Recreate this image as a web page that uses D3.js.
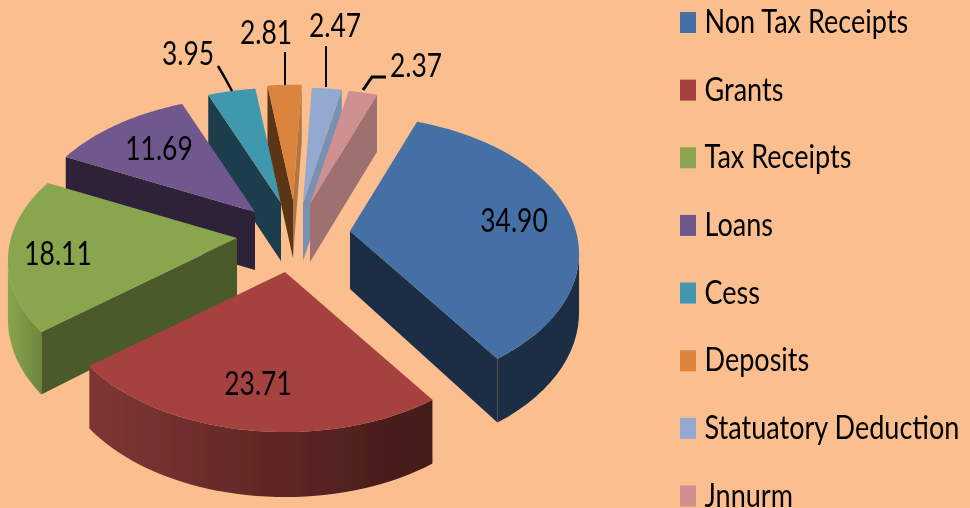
<!DOCTYPE html>
<html>
<head>
<meta charset="utf-8">
<script src="https://cdnjs.cloudflare.com/ajax/libs/d3/7.8.5/d3.min.js"></script>
<style>
html,body{margin:0;padding:0;background:#FBBF8F;overflow:hidden}
svg{display:block}
text{font-family:"Lato","Liberation Sans",sans-serif;fill:#000}
</style>
</head>
<body>
<svg id="c" width="970" height="508"></svg>
<script>
// data
const categories = ["Non Tax Receipts","Grants","Tax Receipts","Loans","Cess","Deposits","Statuatory Deduction","Jnnurm"];
const values = [34.90,23.71,18.11,11.69,3.95,2.81,2.47,2.37];
const valueLabels = ["34.90","23.71","18.11","11.69","3.95","2.81","2.47","2.37"];

// styles
const topColors = ["#4470A5","#A54241","#89A54E","#70588F","#4198AF","#DB843D","#93A9CF","#CF9092"];
const wallLeft  = ["#1A2E45","#803636","#8AA54F","#2D2138","#1B3D4B","#5A3513","#7A90B0","#9E7070"];
const wallRight = ["#1A2E45","#431A18","#6C873C","#2D2138","#1B3D4B","#5A3513","#7A90B0","#9E7070"];
const cutStart  = ["#1A2E45","#431A18","#4B5A2B","#2D2138","#1B3D4B","#5A3513","#7A90B0","#9E7070"];
const cutEnd    = ["#1A2E45","#803636","#4B5A2B","#2D2138","#1B3D4B","#B07840","#7A90B0","#9E7070"];

// layout: exploded apex of each slice, label anchors, leader lines
const apexX = [350,285,237,255,281,293,303,310];
const apexY = [231,272,238,212,203,200,203,204];
const labelX = [514,258,58,159,188,266,335,416];
const labelY = [232,395,265,160,65,44,37,77];
const leaders = [
  {i:4,w:2.5,pts:[[218,66],[225,78],[232,91]]},
  {i:5,w:2,pts:[[285,52],[285,85]]},
  {i:6,w:2,pts:[[326,46],[326,87]]},
  {i:7,w:3,pts:[[363,90],[372,77],[386,77]]}
];
const drawOrder = [4,5,6,7,3,2,0,1];
const rx = 226, ry = 134, persp = 0.163;
const fontSize = 33, squeeze = 0.8, legendSqueeze = 0.82;
const depth = d3.scaleLinear().domain([-1,0,1]).range([57,58,65]);

const svg = d3.select("#c");
const defs = svg.append("defs");
defs.append("filter").attr("id","soft").attr("x","-5%").attr("y","-5%").attr("width","110%").attr("height","110%")
  .append("feGaussianBlur").attr("stdDeviation",0.55);

svg.append("rect").attr("width",970).attr("height",508).attr("fill","#FBBF8F");

const rot = 20*Math.PI/180;
const arcs = d3.pie().sort(null).startAngle(rot).endAngle(rot+2*Math.PI)(values);

function project(i,a,drop){
  const X=Math.sin(a), Z=-Math.cos(a), s=1/(1-persp*Z);
  return [apexX[i]+rx*X*s, apexY[i]+ry*Z*s+(drop?depth(Z):0)];
}
const line = d3.line();
const samples = (a0,a1)=>d3.range(0,41).map(k=>a0+(a1-a0)*k/40);

const chart = svg.append("g").attr("filter","url(#soft)");

drawOrder.forEach(i=>{
  const d=arcs[i], g=chart.append("g");
  const as=samples(d.startAngle,d.endAngle);
  const P=[apexX[i],apexY[i]], Pd=[apexX[i],apexY[i]+depth(0)];
  const mid=project(i,(d.startAngle+d.endAngle)/2);

  // outer wall: only the arc part moving leftwards on screen faces the viewer
  const front=as.filter((a,k)=>{
    const x=project(i,a)[0];
    const movesLeft=k>0 && x<project(i,as[k-1])[0];
    const nextLeft=k<as.length-1 && project(i,as[k+1])[0]<x;
    return movesLeft||nextLeft;
  });
  if(front.length>1){
    const id="w"+i, xs=front.map(a=>project(i,a)[0]);
    const gr=defs.append("linearGradient").attr("id",id).attr("gradientUnits","userSpaceOnUse")
      .attr("x1",d3.min(xs)).attr("x2",d3.max(xs)).attr("y1",0).attr("y2",0);
    gr.append("stop").attr("offset",0).attr("stop-color",wallLeft[i]);
    gr.append("stop").attr("offset",1).attr("stop-color",wallRight[i]);
    const poly=front.map(a=>project(i,a)).concat(front.slice().reverse().map(a=>project(i,a,true)));
    g.append("path").attr("d",line(poly)+"Z").attr("fill",`url(#${id})`);
  }
  // radial cut walls, drawn if dropping by the depth moves away from the top face
  [[d.startAngle,cutStart[i]],[d.endAngle,cutEnd[i]]].forEach(([a,col])=>{
    const E=project(i,a), ex=E[0]-P[0], ey=E[1]-P[1];
    const cm=ex*(mid[1]-P[1])-ey*(mid[0]-P[0]), cd=ex*1;
    if(cm*cd<0){
      g.append("path").attr("d",line([P,E,project(i,a,true),Pd])+"Z").attr("fill",col);
    }
  });
  // top face
  g.append("path").attr("d",line([P].concat(as.map(a=>project(i,a))))+"Z").attr("fill",topColors[i]);
});

// leader lines
const ll = svg.append("g").attr("filter","url(#soft)");
leaders.forEach(l=>ll.append("path").attr("d",line(l.pts)).attr("fill","none").attr("stroke","#000").attr("stroke-width",l.w));

// value labels
const lab = svg.append("g").attr("filter","url(#soft)");
lab.selectAll("text").data(valueLabels).join("text")
  .attr("transform",(d,i)=>`translate(${labelX[i]},${labelY[i]}) scale(${squeeze},1)`)
  .attr("text-anchor","middle").attr("font-size",fontSize).text(d=>d);

// legend
const rowY = d3.scalePoint().domain(categories).range([22.5,496]);
const leg = svg.append("g").attr("filter","url(#soft)");
const rows = leg.selectAll("g").data(categories).join("g").attr("transform",d=>`translate(680,${rowY(d)})`);
rows.append("rect").attr("x",0).attr("y",-10.5).attr("width",16).attr("height",21).attr("fill",(d,i)=>topColors[i]);
rows.append("text").attr("transform",`translate(24.5,10.5) scale(${legendSqueeze},1)`).attr("font-size",fontSize).text(d=>d);
</script>
</body>
</html>
